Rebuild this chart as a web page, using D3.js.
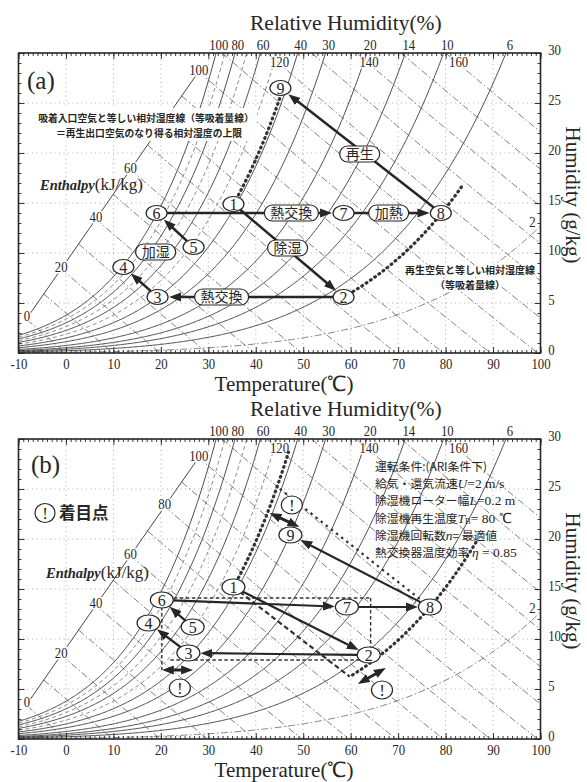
<!DOCTYPE html>
<html lang="ja">
<head>
<meta charset="utf-8">
<title>Psychrometric chart – desiccant cycle</title>
<script src="https://cdn.jsdelivr.net/npm/d3@7/dist/d3.min.js"></script>
<style>
html,body{margin:0;padding:0;background:#fff;}
svg{display:block;}
</style>
</head>
<body>
<svg id="chart" width="587" height="782" viewBox="0 0 587 782"></svg>
<script>
// ---------- chart grid definitions ----------
const tempTicks = [-10, 0, 10, 20, 30, 40, 50, 60, 70, 80, 90, 100];
const humTicks = [0, 5, 10, 15, 20, 25, 30];
const rhLabeled = [100, 80, 60, 40, 30, 20, 14, 10, 6];
const rhDashed = [90, 70, 50];
const rhLow = [2];
const enthalpyLevels = [0, 10, 20, 30, 40, 50, 60, 70, 80, 90, 100, 110, 120, 130, 140, 150, 160];
const enthalpyLabels = [0, 20, 40, 60, 80, 100, 120, 140, 160];

// ---------- state points ①–⑨ (dry bulb °C, humidity g/kg) ----------
const stateNames = ["1", "2", "3", "4", "5", "6", "7", "8", "9"];
const tempA = [35.3, 58.5, 19.3, 12.1, 26.9, 19.1, 58.5, 79.0, 45.2];
const humA  = [14.9, 5.6, 5.6, 8.6, 10.6, 14.0, 14.0, 14.0, 26.5];
const tempB = [35.3, 63.8, 25.8, 17.4, 26.7, 20.2, 59.2, 76.7, 47.3];
const humB  = [15.2, 8.4, 8.6, 11.6, 11.2, 13.9, 13.2, 13.2, 20.4];
const flowFrom = [1, 2, 3, 5, 6, 7, 8];
const flowTo   = [2, 3, 4, 6, 7, 8, 9];

// process tags of panel (a)
const tagText = ["除湿", "熱交換", "熱交換", "加熱", "再生", "加湿"];
const tagTemp = [46.7, 32.8, 47.5, 68.0, 61.9, 18.9];
const tagHum  = [10.5, 5.6, 14.0, 14.0, 19.9, 10.1];

// equal-RH (equal adsorption) curves: anchor state and dry-bulb span
const isoStateA = [1, 2];
const isoFromA = [35.3, 60.5];
const isoToA = [46.3, 83.6];
const isoStateB = [1, 8];
const isoFromB = [35.3, 60.4];
const isoToB = [46.9, 86.7];

// panel (b) guides: [T0, w0, T1, w1]
const guideB = [[20.2, 14.1, 64.2, 14.1], [64.2, 14.1, 64.2, 9.2], [20.2, 13.2, 20.2, 6.9], [22.0, 7.9, 64.6, 7.9]];
const idealDehumEndB = 59.8;   // ① → equal-RH curve (°C)
const idealRegenEndB = 44.5;   // ⑧ → equal-RH curve (°C)
const gapArrowsB = [[20.2, 6.9, 26.8, 6.9], [61.5, 5.5, 67.4, 7.1], [42.9, 22.6, 49.2, 21.2]];
const noteMarksB = [[24.0, 5.1], [66.6, 4.9], [47.6, 23.4]];

// ---------- moist-air relations (101.325 kPa) ----------
const P_ATM = 101.325;
function psat(t) { return 0.61121 * Math.exp((18.678 - t / 234.5) * (t / (257.14 + t))); }
function humRatio(t, rh) { const pv = rh / 100 * psat(t); return pv >= P_ATM ? 1e9 : 622 * pv / (P_ATM - pv); }
function relHum(t, w) { const pv = P_ATM * w / (622 + w); return 100 * pv / psat(t); }
function enthalpy(t, w) { return 1.006 * t + w / 1000 * (2501 + 1.86 * t); }
function humOnEnthalpy(h, t) { return 1000 * (h - 1.006 * t) / (2501 + 1.86 * t); }
function tempOnEnthalpy(h, w) { return (h - 2.501 * w) / (1.006 + 0.00186 * w); }
function tempOnRH(rh, w) {
  let lo = -10, hi = 100;
  for (let i = 0; i < 50; i++) { const m = (lo + hi) / 2; if (humRatio(m, rh) < w) lo = m; else hi = m; }
  return (lo + hi) / 2;
}

// ---------- layout ----------
const SERIF = "'Liberation Serif','Times New Roman',serif";
const JP = "'Noto Sans CJK JP','Noto Sans CJK SC',sans-serif";
const INK = "#262626";
const svg = d3.select("#chart");
const x = d3.scaleLinear().domain([-10, 100]).range([18.5, 540.5]);
const panelKeys = ["a", "b"];
const panelTop = [53, 439];
const panelBottom = [353, 739];

const defs = svg.append("defs");
defs.append("marker").attr("id", "head")
  .attr("viewBox", "0 -5 12 10").attr("refX", 4).attr("refY", 0)
  .attr("markerWidth", 12).attr("markerHeight", 10)
  .attr("markerUnits", "userSpaceOnUse").attr("orient", "auto-start-reverse")
  .append("path").attr("d", "M0,-4.5L12,0L0,4.5Z").attr("fill", INK);

const lineGen = d3.line();

function numText(g, px, py, str, size, anchor, halo) {
  const t = g.append("text")
    .attr("transform", `translate(${px},${py}) scale(0.85,1)`)
    .attr("font-family", SERIF).attr("font-size", size)
    .attr("text-anchor", anchor || "middle").attr("fill", INK).text(str);
  if (halo) t.attr("stroke", "#fff").attr("stroke-width", 3).attr("stroke-linejoin", "round").attr("paint-order", "stroke");
  return t;
}

function edgeDist(rx, ry, ux, uy) { return 1 / Math.sqrt((ux / rx) ** 2 + (uy / ry) ** 2); }

function drawBase(g, y, key) {
  const clipId = "plot-" + key;
  defs.append("clipPath").attr("id", clipId).append("rect")
    .attr("x", x(-10)).attr("y", y(30)).attr("width", x(100) - x(-10)).attr("height", y(0) - y(30));
  const grid = g.append("g").attr("clip-path", `url(#${clipId})`);
  const P = (t, w) => [x(t), y(w)];

  // dotted dry-bulb / humidity grid
  grid.selectAll(".vg").data(tempTicks.slice(1, -1)).join("line")
    .attr("x1", d => x(d)).attr("x2", d => x(d)).attr("y1", y(0)).attr("y2", y(30))
    .attr("stroke", "#8c8c8c").attr("stroke-width", 0.7).attr("stroke-dasharray", "1,3.5");
  grid.selectAll(".hg").data(humTicks.slice(1, -1)).join("line")
    .attr("x1", x(-10)).attr("x2", x(100)).attr("y1", d => y(d)).attr("y2", d => y(d))
    .attr("stroke", "#8c8c8c").attr("stroke-width", 0.7).attr("stroke-dasharray", "1,3.5");

  // relative humidity curves
  const tSamples = d3.range(-10, 100.001, 0.25);
  const rhPoints = rh => {
    const pts = [];
    for (const t of tSamples) { const w = humRatio(t, rh); pts.push(P(t, Math.min(w, 40))); if (w > 31) break; }
    return pts;
  };
  grid.selectAll(".rh").data(rhLabeled).join("path")
    .attr("d", d => lineGen(rhPoints(d))).attr("fill", "none")
    .attr("stroke", "#2e2e2e").attr("stroke-width", 0.85);
  grid.selectAll(".rhd").data(rhDashed).join("path")
    .attr("d", d => lineGen(rhPoints(d))).attr("fill", "none")
    .attr("stroke", "#555").attr("stroke-width", 0.7).attr("stroke-dasharray", "4,3");
  grid.selectAll(".rhl").data(rhLow).join("path")
    .attr("d", d => lineGen(rhPoints(d))).attr("fill", "none")
    .attr("stroke", "#555").attr("stroke-width", 0.75).attr("stroke-dasharray", "7,2.5,1.5,2.5");

  // enthalpy scale line and constant-enthalpy lines
  const scaleA = [-8.2, 3.5], scaleB = [28.2, 28.3];
  const onScale = f => [scaleA[0] + f * (scaleB[0] - scaleA[0]), scaleA[1] + f * (scaleB[1] - scaleA[1])];
  const scalePoint = h => {
    if (enthalpy(...onScale(0)) >= h) return onScale(0);
    let lo = 0, hi = 1;
    for (let i = 0; i < 40; i++) { const m = (lo + hi) / 2; const p = onScale(m); if (enthalpy(p[0], p[1]) < h) lo = m; else hi = m; }
    return onScale((lo + hi) / 2);
  };
  const hPoints = h => {
    const t0 = h <= 100 ? scalePoint(h)[0] : tempOnEnthalpy(h, 30);
    const t1 = Math.min(100, h / 1.006);
    return d3.range(0, 1.0001, 0.05).map(f => { const t = t0 + f * (t1 - t0); return P(t, humOnEnthalpy(h, t)); });
  };
  grid.selectAll(".h").data(enthalpyLevels).join("path")
    .attr("d", d => lineGen(hPoints(d))).attr("fill", "none")
    .attr("stroke", "#555").attr("stroke-width", 0.75).attr("stroke-dasharray", "7,2.5,1.5,2.5");
  g.append("path").attr("d", lineGen([P(...onScale(0)), P(...onScale(1))]))
    .attr("stroke", "#333").attr("stroke-width", 0.9).attr("fill", "none");
  // in (a) the 80 mark sits under the note box
  enthalpyLabels.filter(h => !(key === "a" && h === 80)).forEach(h => {
    let p;
    if (h <= 100) { p = P(...scalePoint(h)); numText(g, p[0], p[1] + 3, String(h), 15, "middle", true); }
    else { const w = 29.0; p = P(tempOnEnthalpy(h, w), w); numText(g, p[0] + 1, p[1] + 4, String(h), 15, "middle", true); }
  });

  // 2 % curve label
  const w2 = humRatio(100, rhLow[0]);
  numText(g, x(100) - 8, y(w2) + 1, String(rhLow[0]), 15, "middle", true);

  // frame
  g.append("rect").attr("x", x(-10)).attr("y", y(30))
    .attr("width", x(100) - x(-10)).attr("height", y(0) - y(30))
    .attr("fill", "none").attr("stroke", INK).attr("stroke-width", 1.6);

  // ticks
  const minorT = d3.range(-10, 100.5, 1), minorW = d3.range(0, 30.5, 1);
  const styleAxis = sel => { sel.select(".domain").remove(); sel.selectAll("line").attr("stroke", INK).attr("stroke-width", 0.9); };
  g.append("g").attr("transform", `translate(0,${y(0)})`)
    .call(d3.axisBottom(x).tickValues(minorT).tickSizeInner(-3).tickSizeOuter(0).tickFormat(() => "")).call(styleAxis);
  g.append("g").attr("transform", `translate(0,${y(30)})`)
    .call(d3.axisTop(x).tickValues(minorT).tickSizeInner(-3).tickSizeOuter(0).tickFormat(() => "")).call(styleAxis);
  g.append("g").attr("transform", `translate(${x(-10)},0)`)
    .call(d3.axisLeft(y).tickValues(minorW).tickSizeInner(-3).tickSizeOuter(0).tickFormat(() => "")).call(styleAxis);
  g.append("g").attr("transform", `translate(${x(100)},0)`)
    .call(d3.axisRight(y).tickValues(minorW).tickSizeInner(-3).tickSizeOuter(0).tickFormat(() => "")).call(styleAxis);
  g.append("g").attr("transform", `translate(${x(-10)},0)`)
    .call(d3.axisLeft(y).tickValues(humTicks).tickSizeInner(-6).tickSizeOuter(0).tickFormat(() => "")).call(styleAxis);
  g.append("g").attr("transform", `translate(0,${y(30)})`)
    .call(d3.axisTop(x).tickValues(tempTicks).tickSizeInner(-6).tickSizeOuter(0).tickFormat(() => "")).call(styleAxis);

  const bottomAxis = g.append("g").attr("transform", `translate(0,${y(0)})`)
    .call(d3.axisBottom(x).tickValues(tempTicks).tickSizeInner(-6).tickSizeOuter(0).tickPadding(5)
      .tickFormat(d => String(d))).call(styleAxis);
  bottomAxis.attr("font-family", SERIF).attr("font-size", 15);
  bottomAxis.selectAll("text").attr("fill", INK).attr("transform", "scale(0.85,1)");
  const rightAxis = g.append("g").attr("transform", `translate(${x(100)},0)`)
    .call(d3.axisRight(y).tickValues(humTicks).tickSizeInner(-6).tickSizeOuter(0).tickPadding(9)
      .tickFormat(d => String(d))).call(styleAxis);
  rightAxis.attr("font-family", SERIF).attr("font-size", 15);
  rightAxis.selectAll("text").attr("fill", INK).attr("dy", "0.1em").attr("transform", "scale(0.85,1)");

  // relative-humidity labels above the frame
  rhLabeled.forEach(rh => numText(g, x(tempOnRH(rh, 31)), y(30) - 3.5, String(rh), 15, "middle"));

  // titles
  g.append("text").attr("x", 250).attr("y", y(30) - 23)
    .attr("font-family", SERIF).attr("font-size", 21.5).attr("fill", INK).text("Relative Humidity(%)");
  g.append("text").attr("x", 284).attr("y", y(0) + 38).attr("text-anchor", "middle")
    .attr("font-family", SERIF).attr("font-size", 21).attr("fill", INK).text("Temperature(℃)");
  g.append("text").attr("transform", `translate(566,${y(15) - 8}) rotate(90)`).attr("text-anchor", "middle")
    .attr("font-family", SERIF).attr("font-size", 21).attr("fill", INK).text("Humidity (g/kg)");
  g.append("text").attr("x", key === "a" ? 27 : 31).attr("y", y(30) + (key === "a" ? 36 : 34))
    .attr("font-family", SERIF).attr("font-size", 25).attr("fill", INK).text(`(${key})`);
  const en = g.append("text").attr("x", key === "a" ? 40 : 46).attr("y", y(30) + (key === "a" ? 137 : 138.5))
    .attr("font-family", SERIF).attr("fill", INK);
  en.append("tspan").attr("font-size", 14.5).attr("font-weight", "bold").attr("font-style", "italic").text("Enthalpy");
  en.append("tspan").attr("font-size", 17).text("(kJ/kg)");
}

function isoCurve(g, y, temps, hums, stateIdx, tFrom, tTo) {
  stateIdx.forEach((s, k) => {
    const rh = relHum(temps[s - 1], hums[s - 1]);
    const pts = d3.range(0, 1.0001, 0.02).map(f => { const t = tFrom[k] + f * (tTo[k] - tFrom[k]); return [x(t), y(humRatio(t, rh))]; });
    g.append("path").attr("d", lineGen(pts)).attr("fill", "none")
      .attr("stroke", "#333").attr("stroke-width", 3.2).attr("stroke-linecap", "round")
      .attr("stroke-dasharray", "0.8,4.4");
  });
}

function drawFlows(g, y, temps, hums, rx, ry, width) {
  const pts = temps.map((t, k) => [x(t), y(hums[k])]);
  flowFrom.forEach((f, k) => {
    const a = pts[f - 1], b = pts[flowTo[k] - 1];
    const dx = b[0] - a[0], dy = b[1] - a[1], L = Math.hypot(dx, dy), ux = dx / L, uy = dy / L;
    const r0 = edgeDist(rx, ry, ux, uy), r1 = edgeDist(rx, ry, ux, uy) + 1 + 8;
    g.append("line")
      .attr("x1", a[0] + ux * r0).attr("y1", a[1] + uy * r0)
      .attr("x2", b[0] - ux * r1).attr("y2", b[1] - uy * r1)
      .attr("stroke", INK).attr("stroke-width", width).attr("marker-end", "url(#head)");
  });
}

function drawStates(g, y, temps, hums, rx, ry) {
  const s = g.selectAll(".st").data(stateNames).join("g")
    .attr("transform", (d, k) => `translate(${x(temps[k])},${y(hums[k])})`);
  s.append("ellipse").attr("rx", rx).attr("ry", ry).attr("fill", "#fff").attr("stroke", INK).attr("stroke-width", 1.2);
  s.append("text").attr("y", 5.5).attr("text-anchor", "middle").attr("font-family", SERIF)
    .attr("font-size", 16).attr("fill", INK).text(d => d);
}

function noteMark(g, px, py, rx, ry) {
  g.append("ellipse").attr("cx", px).attr("cy", py).attr("rx", rx).attr("ry", ry)
    .attr("fill", "#fff").attr("stroke", INK).attr("stroke-width", 1.2);
  g.append("text").attr("x", px).attr("y", py + 6).attr("text-anchor", "middle")
    .attr("font-family", SERIF).attr("font-size", 17).attr("fill", INK).text("!");
}

function drawPanelA(g, y) {
  isoCurve(g, y, tempA, humA, isoStateA, isoFromA, isoToA);
  drawFlows(g, y, tempA, humA, 10.5, 7.5, 2.5);
  // process tags
  tagText.forEach((txt, k) => {
    const w = txt.length * 14 + 12, h = 16;
    const tg = g.append("g").attr("transform", `translate(${x(tagTemp[k])},${y(tagHum[k])})`);
    tg.append("rect").attr("x", -w / 2).attr("y", -h / 2).attr("width", w).attr("height", h)
      .attr("rx", 8).attr("fill", "#fff").attr("stroke", INK).attr("stroke-width", 1.2);
    tg.append("text").attr("y", 5).attr("text-anchor", "middle").attr("font-family", JP)
      .attr("font-size", 14).attr("fill", INK).text(txt);
  });
  drawStates(g, y, tempA, humA, 10.5, 7.5);

  // notes
  g.append("rect").attr("x", 37).attr("y", y(30) + 55).attr("width", 220).attr("height", 33).attr("fill", "#fff");
  const n1 = g.append("text").attr("font-family", JP).attr("font-size", 9.8).attr("font-weight", "bold")
    .attr("fill", INK).attr("text-anchor", "middle");
  n1.append("tspan").attr("x", 146).attr("y", y(30) + 69).text("吸着入口空気と等しい相対湿度線（等吸着量線）");
  n1.append("tspan").attr("x", 149).attr("y", y(30) + 84).text("＝再生出口空気のなり得る相対湿度の上限");
  const n2 = g.append("text").attr("font-family", JP).attr("font-size", 10).attr("font-weight", "bold")
    .attr("fill", INK).attr("text-anchor", "middle").attr("stroke", "#fff").attr("stroke-width", 3)
    .attr("paint-order", "stroke");
  n2.append("tspan").attr("x", 470).attr("y", y(30) + 221).text("再生空気と等しい相対湿度線");
  n2.append("tspan").attr("x", 470).attr("y", y(30) + 236).text("（等吸着量線）");
}

function drawPanelB(g, y) {
  // reference guides
  guideB.forEach(s => g.append("line")
    .attr("x1", x(s[0])).attr("y1", y(s[1])).attr("x2", x(s[2])).attr("y2", y(s[3]))
    .attr("stroke", "#333").attr("stroke-width", 1.4).attr("stroke-dasharray", "3.5,2.5"));
  const rhLow8 = relHum(tempB[7], humB[7]);
  const rhHigh1 = relHum(tempB[0], humB[0]);
  // ideal dehumidification (①) and regeneration (⑧) end points
  g.append("line").attr("x1", x(tempB[0])).attr("y1", y(humB[0]))
    .attr("x2", x(idealDehumEndB)).attr("y2", y(humRatio(idealDehumEndB, rhLow8)))
    .attr("stroke", "#333").attr("stroke-width", 2.2).attr("stroke-dasharray", "5,3");
  g.append("line").attr("x1", x(tempB[7])).attr("y1", y(humB[7]))
    .attr("x2", x(idealRegenEndB)).attr("y2", y(humRatio(idealRegenEndB, rhHigh1)))
    .attr("stroke", "#333").attr("stroke-width", 2.2).attr("stroke-dasharray", "2.5,4");
  isoCurve(g, y, tempB, humB, isoStateB, isoFromB, isoToB);
  drawFlows(g, y, tempB, humB, 11, 8, 2.2);
  // gaps to be noted
  gapArrowsB.forEach(s => {
    const a = [x(s[0]), y(s[1])], b = [x(s[2]), y(s[3])];
    const L = Math.hypot(b[0] - a[0], b[1] - a[1]), ux = (b[0] - a[0]) / L, uy = (b[1] - a[1]) / L;
    g.append("line").attr("x1", a[0] + ux * 8).attr("y1", a[1] + uy * 8)
      .attr("x2", b[0] - ux * 8).attr("y2", b[1] - uy * 8)
      .attr("stroke", INK).attr("stroke-width", 3)
      .attr("marker-start", "url(#head)").attr("marker-end", "url(#head)");
  });
  drawStates(g, y, tempB, humB, 11.5, 8);
  noteMarksB.forEach(m => noteMark(g, x(m[0]), y(m[1]), 10.5, 9));

  // legend
  noteMark(g, 45, 513, 10, 9.5);
  g.append("text").attr("x", 59).attr("y", 519).attr("font-family", JP).attr("font-size", 16.5)
    .attr("font-weight", "bold").attr("fill", INK).text("着目点");

  // operating conditions
  const cond = [
    [["運転条件:(ARI条件下)"]],
    [["給気・還気流速"], ["U", "i"], ["=2 m/s", "s"]],
    [["除湿機ローター幅"], ["L", "i"], ["=0.2 m", "s"]],
    [["除湿機再生温度"], ["T", "i"], ["B", "b"], ["= 80 ℃", "s"]],
    [["除湿機回転数"], ["n", "i"], ["= 最適値"]],
    [["熱交換器温度効率 "], ["η", "i"], [" = 0.85", "s"]]
  ];
  cond.forEach((parts, k) => {
    const t = g.append("text").attr("x", 375).attr("y", 471 + k * 17.2).attr("fill", INK).attr("font-size", 11.5);
    parts.forEach(p => {
      const ts = t.append("tspan").text(p[0]);
      if (p[1] === "i") ts.attr("font-family", SERIF).attr("font-style", "italic").attr("font-size", 13.5);
      else if (p[1] === "s") ts.attr("font-family", SERIF).attr("font-size", 13.5);
      else if (p[1] === "b") ts.attr("font-family", SERIF).attr("font-size", 8.5).attr("dy", 1.5);
      else ts.attr("font-family", JP).attr("font-size", 11.8);
      if (p[1] !== "b" && parts.some(q => q[1] === "b") && p[0].startsWith("=")) ts.attr("dy", -1.5);
    });
  });
}

panelKeys.forEach((key, i) => {
  const y = d3.scaleLinear().domain([0, 30]).range([panelBottom[i], panelTop[i]]);
  const g = svg.append("g");
  drawBase(g, y, key);
  if (key === "a") drawPanelA(g, y); else drawPanelB(g, y);
});
</script>
</body>
</html>
